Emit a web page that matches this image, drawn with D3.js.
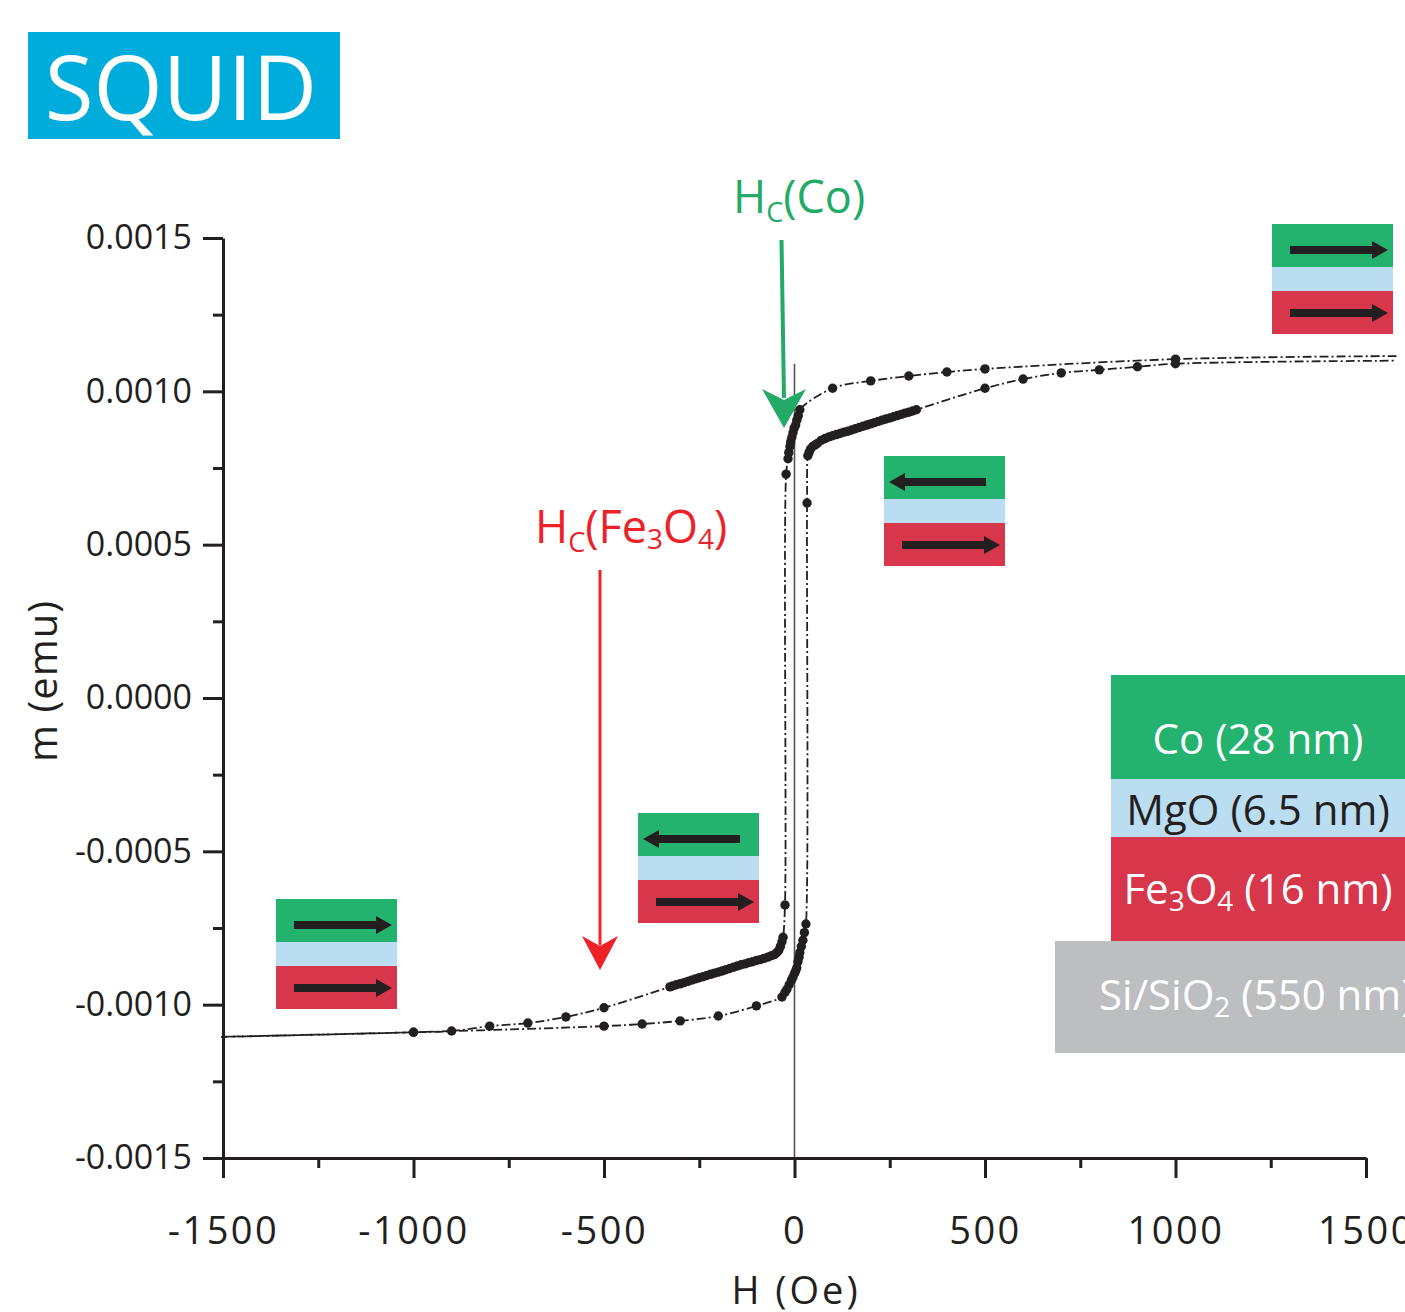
<!DOCTYPE html>
<html><head><meta charset="utf-8">
<script src="https://cdn.jsdelivr.net/npm/d3@7"></script>
<style>body{margin:0;background:#fff} svg{display:block} text{font-family:"Open Sans",sans-serif}</style>
</head><body><svg id="c" width="1405" height="1312"></svg>
<script>
// ---- data ----
const xMajor = [-1500,-1000,-500,0,500,1000,1500];
const xMinor = [-1250,-750,-250,250,750,1250];
const xTickLabels = ["-1500","-1000","-500","0","500","1000","1500"];
const yMajor = [-0.0015,-0.001,-0.0005,0,0.0005,0.001,0.0015];
const yMinor = [-0.00125,-0.00075,-0.00025,0.00025,0.00075,0.00125];
const yTickLabels = ["-0.0015","-0.0010","-0.0005","0.0000","0.0005","0.0010","0.0015"];

// descending branch (field swept + to -), measured points
const descH = [1000,500,400,300,200,100,14,10,6,3,-1,-4,-7,-10,-12,-15,-17,-22,-25,-30,-33,-37,-41,-46,-52,-60,-70,-80,-90,-100,-110,-120,-130,-140,-150,-160,-170,-180,-190,-200,-210,-220,-230,-240,-250,-260,-270,-280,-290,-300,-310,-320,-327,-500,-600,-700,-800,-900,-1000];
const descM = [0.001105,0.001073,0.001063,0.00105,0.001034,0.00101,0.00094,0.00092,0.000906,0.00089,0.00088,0.000865,0.00085,0.000835,0.00082,0.0008,0.00078,0.00073,-0.000675,-0.00078,-0.000795,-0.00081,-0.000822,-0.00083,-0.000836,-0.00084,-0.000845,-0.000849,-0.000853,-0.000856,-0.00086,-0.000863,-0.000867,-0.00087,-0.000874,-0.000878,-0.000882,-0.000886,-0.00089,-0.000894,-0.000897,-0.000901,-0.000905,-0.000909,-0.000912,-0.000916,-0.00092,-0.000924,-0.000928,-0.000932,-0.000935,-0.000939,-0.000942,-0.00101,-0.00104,-0.00106,-0.00107,-0.001086,-0.00109];
const descStart = [1580,0.001115];
const descEnd = [-1505,-0.001105];

// ascending branch (field swept - to +), measured points
const ascH = [-1000,-500,-400,-300,-200,-100,-33,-25,-20,-14,-8,-4,0,3,6,9,12,14,18,22,26,30,33,35,38,42,48,54,60,70,80,90,100,110,120,130,140,150,160,170,180,190,200,210,220,230,240,250,260,270,280,290,300,310,320,500,600,700,800,900,1000];
const ascM = [-0.00109,-0.00107,-0.001063,-0.001053,-0.001037,-0.001004,-0.000975,-0.00096,-0.00095,-0.000935,-0.00092,-0.00091,-0.000898,-0.00089,-0.00088,-0.00086,-0.000845,-0.00083,-0.00081,-0.00079,-0.000765,-0.000737,0.000636,0.00079,0.0008,0.000812,0.00082,0.000825,0.00083,0.00084,0.000846,0.000851,0.000855,0.000859,0.000863,0.000867,0.00087,0.000874,0.000878,0.000882,0.000886,0.00089,0.000894,0.000898,0.000902,0.000906,0.00091,0.000913,0.000917,0.000921,0.000925,0.000929,0.000932,0.000936,0.00094,0.00101,0.00104,0.00106,0.00107,0.00108,0.00109];
const ascStart = [-1505,-0.001105];
const ascEnd = [1580,0.0011];

// magnetization configuration icons: direction of Co and Fe3O4 moments
const stackDirs = [["right","right"],["left","right"],["left","right"],["right","right"]];
const layerNames = ["Co (28 nm)","MgO (6.5 nm)","Fe3O4 (16 nm)","Si/SiO2 (550 nm)"];

// ---- drawing ----
const svg = d3.select("#c");
const C = {green:"#24b36f", blue:"#bbddf1", red:"#d7364b", gray:"#bcbec0", ink:"#231f20",
           lblGreen:"#22aa66", lblRed:"#ed2228", squid:"#00acdc"};
const x = d3.scaleLinear([-1500,1500],[223,1366]);
const y = d3.scaleLinear([-0.0015,0.0015],[1158,238]);

// SQUID badge
svg.append("rect").attr("x",28).attr("y",32).attr("width",312).attr("height",107).attr("fill",C.squid);
svg.append("text").attr("x",181).attr("y",120).attr("text-anchor","middle").attr("fill","#fff")
  .attr("font-size",89).text("SQUID");

// zero-field line
svg.append("line").attr("x1",x(0)).attr("x2",x(0)).attr("y1",y(0.00109)).attr("y2",y(-0.0015))
  .attr("stroke","#555").attr("stroke-width",1.6);

// axes
function styleAxis(g){
  g.select(".domain").attr("stroke",C.ink).attr("stroke-width",3);
  g.selectAll(".tick line").attr("stroke",C.ink).attr("stroke-width",3);
  g.selectAll(".tick text").attr("fill",C.ink).style("font-family","'Open Sans',sans-serif");
}
const gy = svg.append("g").attr("transform",`translate(${x(-1500)},0)`)
  .call(d3.axisLeft(y).tickValues(yMajor).tickSize(20).tickSizeOuter(0).tickPadding(11)
    .tickFormat((d,i)=>yTickLabels[i]));
gy.selectAll(".tick text").attr("font-size",34);
styleAxis(gy);
const gy2 = svg.append("g").attr("transform",`translate(${x(-1500)},0)`)
  .call(d3.axisLeft(y).tickValues(yMinor).tickSize(10).tickSizeOuter(0).tickFormat(""));
styleAxis(gy2); gy2.select(".domain").remove();

const gx = svg.append("g").attr("transform",`translate(0,${y(-0.0015)})`)
  .call(d3.axisBottom(x).tickValues(xMajor).tickSize(20).tickSizeOuter(0).tickPadding(39)
    .tickFormat((d,i)=>xTickLabels[i]));
gx.selectAll(".tick text").attr("font-size",38).attr("letter-spacing",2.5);
styleAxis(gx);
const gx2 = svg.append("g").attr("transform",`translate(0,${y(-0.0015)})`)
  .call(d3.axisBottom(x).tickValues(xMinor).tickSize(10).tickSizeOuter(0).tickFormat(""));
styleAxis(gx2); gx2.select(".domain").remove();

// axis titles
svg.append("text").attr("x",796).attr("y",1304).attr("text-anchor","middle").attr("font-size",38)
  .attr("letter-spacing",3).attr("fill",C.ink).text("H (Oe)");
svg.append("text").attr("transform","translate(57,681) rotate(-90)").attr("text-anchor","middle")
  .attr("font-size",40).attr("letter-spacing",1).attr("fill",C.ink).text("m (emu)");

// curves
const descPts = [descStart].concat(descH.map((h,i)=>[h,descM[i]])).concat([descEnd]);
const ascPts = [ascStart].concat(ascH.map((h,i)=>[h,ascM[i]])).concat([ascEnd]);
const line = d3.line().x(d=>x(d[0])).y(d=>y(d[1])).curve(d3.curveCatmullRom.alpha(0.5));
[descPts, ascPts].forEach(p=>{
  svg.append("path").attr("d",line(p)).attr("fill","none").attr("stroke",C.ink)
    .attr("stroke-width",1.8).attr("stroke-dasharray","9,3,2,3");
});
const dots = descH.map((h,i)=>[h,descM[i]]).concat(ascH.map((h,i)=>[h,ascM[i]]));
svg.append("g").selectAll("circle").data(dots).join("circle")
  .attr("cx",d=>x(d[0])).attr("cy",d=>y(d[1])).attr("r",4.7).attr("fill",C.ink);

// Hc annotations
const tCo = svg.append("text").attr("x",733).attr("y",213).attr("font-size",45).attr("fill",C.lblGreen);
tCo.append("tspan").text("H");
tCo.append("tspan").attr("font-size",27).attr("dy",9).text("C");
tCo.append("tspan").attr("dy",-9).text("(Co)");
svg.append("line").attr("x1",781.5).attr("y1",240).attr("x2",784).attr("y2",398)
  .attr("stroke",C.lblGreen).attr("stroke-width",4);
svg.append("polygon").attr("points","762,389 784,400 806,389 784,428").attr("fill",C.lblGreen);

const tFe = svg.append("text").attr("x",535).attr("y",543).attr("font-size",45).attr("fill",C.lblRed);
tFe.append("tspan").text("H");
tFe.append("tspan").attr("font-size",27).attr("dy",9).text("C");
tFe.append("tspan").attr("dy",-9).text("(Fe");
tFe.append("tspan").attr("font-size",28).attr("dy",6).text("3");
tFe.append("tspan").attr("dy",-6).text("O");
tFe.append("tspan").attr("font-size",28).attr("dy",6).text("4");
tFe.append("tspan").attr("dy",-6).text(")");
svg.append("line").attr("x1",600).attr("y1",570).attr("x2",600).attr("y2",945)
  .attr("stroke",C.lblRed).attr("stroke-width",3);
svg.append("polygon").attr("points","582,936 600,946 618,936 600,970").attr("fill",C.lblRed);

// configuration icons
const stackPos = [[1272,224],[884,456],[638,813],[276,899]];
function arrow(g, x0, yc, dir){
  let pts;
  if(dir==="right"){
    const a = x0+18, tip = x0+116, hb = tip-16;
    pts = [[a,yc-4],[hb,yc-4],[hb,yc-9],[tip,yc],[hb,yc+9],[hb,yc+4],[a,yc+4]];
  } else {
    const a = x0+102, tip = x0+5, hb = tip+16;
    pts = [[a,yc-4],[hb,yc-4],[hb,yc-9],[tip,yc],[hb,yc+9],[hb,yc+4],[a,yc+4]];
  }
  g.append("polygon").attr("points",pts.map(p=>p.join(",")).join(" ")).attr("fill",C.ink);
}
stackDirs.forEach((d,i)=>{
  const [sx,sy] = stackPos[i];
  const g = svg.append("g");
  g.append("rect").attr("x",sx).attr("y",sy).attr("width",121).attr("height",43).attr("fill",C.green);
  g.append("rect").attr("x",sx).attr("y",sy+43).attr("width",121).attr("height",24).attr("fill",C.blue);
  g.append("rect").attr("x",sx).attr("y",sy+67).attr("width",121).attr("height",43).attr("fill",C.red);
  arrow(g, sx, sy+26, d[0]);
  arrow(g, sx, sy+67+22, d[1]);
});

// layer stack legend
svg.append("rect").attr("x",1111).attr("y",675).attr("width",294).attr("height",104).attr("fill",C.green);
svg.append("rect").attr("x",1111).attr("y",779).attr("width",294).attr("height",58).attr("fill",C.blue);
svg.append("rect").attr("x",1111).attr("y",837).attr("width",294).attr("height",104).attr("fill",C.red);
svg.append("rect").attr("x",1055).attr("y",941).attr("width",350).attr("height",112).attr("fill",C.gray);
svg.append("text").attr("x",1258).attr("y",754).attr("text-anchor","middle").attr("font-size",42)
  .attr("fill","#fff").text(layerNames[0]);
svg.append("text").attr("x",1258).attr("y",825).attr("text-anchor","middle").attr("font-size",42)
  .attr("fill",C.ink).text(layerNames[1]);
const tF = svg.append("text").attr("x",1258).attr("y",904).attr("text-anchor","middle").attr("font-size",42).attr("fill","#fff");
tF.append("tspan").text("Fe");
tF.append("tspan").attr("font-size",28).attr("dy",7).text("3");
tF.append("tspan").attr("dy",-7).text("O");
tF.append("tspan").attr("font-size",28).attr("dy",7).text("4");
tF.append("tspan").attr("dy",-7).text(" (16 nm)");
const tS = svg.append("text").attr("x",1099).attr("y",1010).attr("font-size",42).attr("fill","#fff");
tS.append("tspan").text("Si/SiO");
tS.append("tspan").attr("font-size",28).attr("dy",7).text("2");
tS.append("tspan").attr("dy",-7).text(" (550 nm)");
</script></body></html>
